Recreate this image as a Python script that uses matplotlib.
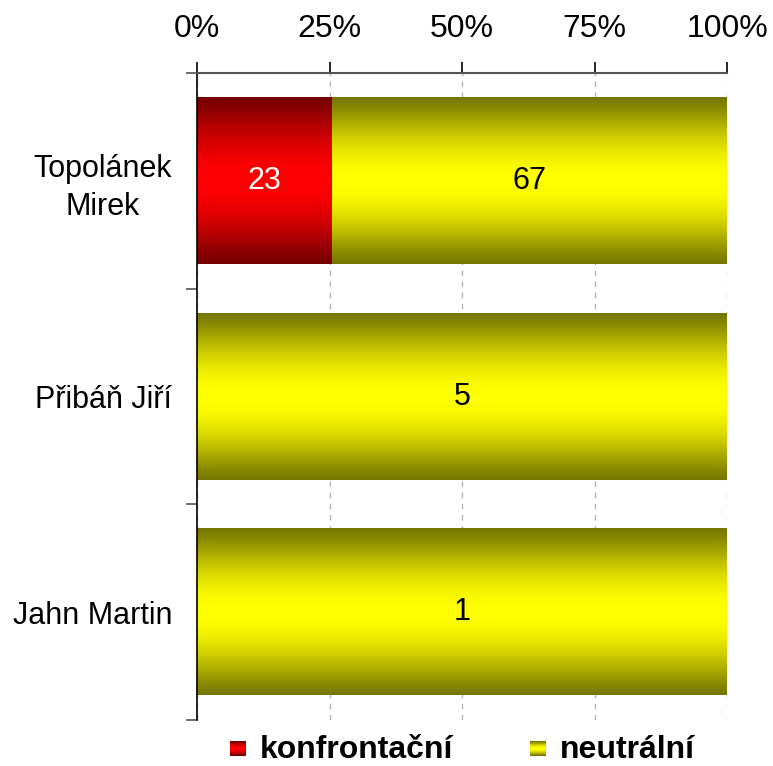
import numpy as np
import matplotlib
matplotlib.use('Agg')
import matplotlib.pyplot as plt
from matplotlib.colors import to_rgb

# ---------------------------------------------------------------
# DATA
# ---------------------------------------------------------------
names = ['Topolánek\nMirek', 'Přibáň Jiří', 'Jahn Martin']
konfrontacni = [23, 0, 0]
neutralni = [67, 5, 1]
series = ['konfrontační', 'neutrální']
xticks = [0, 25, 50, 75, 100]

# ---------------------------------------------------------------
# SETTINGS
# ---------------------------------------------------------------
plt.rcParams['font.family'] = ['Liberation Sans', 'DejaVu Sans']
fontsize = 23
dark = {'konfrontační': '#760000', 'neutrální': '#767600'}
bright = {'konfrontační': '#ff0000', 'neutrální': '#ffff00'}
textcol = {'konfrontační': 'white', 'neutrální': 'black'}


def gradient(name, n=200):
    t = np.linspace(0, 1, n)
    v = 1 - np.abs(2 * t - 1)
    v = np.sin(v * np.pi / 2) ** 1.2
    c0 = np.array(to_rgb(dark[name]))
    c1 = np.array(to_rgb(bright[name]))
    img = c0[None, :] + (c1 - c0)[None, :] * v[:, None]
    return img[:, None, :]


fig = plt.figure(figsize=(7.73, 7.66), dpi=100)
ax = fig.add_axes([0.2549, 0.06, 0.9405 - 0.2549, 0.9047 - 0.06])

totals = np.array(konfrontacni) + np.array(neutralni)
pk = 100 * np.array(konfrontacni) / totals
pn = 100 * np.array(neutralni) / totals
y = np.arange(len(names))

for vals, pct, left, name in [(konfrontacni, pk, np.zeros(len(y)), 'konfrontační'),
                              (neutralni, pn, pk, 'neutrální')]:
    bars = ax.barh(y, pct, left=left, height=0.77, color='none', zorder=2)
    for b, v in zip(bars, vals):
        if v == 0:
            continue
        x0, y0, w, h = b.get_x(), b.get_y(), b.get_width(), b.get_height()
        ax.imshow(gradient(name), extent=(x0, x0 + w, y0 + h, y0),
                  aspect='auto', zorder=2, interpolation='bilinear')
        ax.text(x0 + w / 2, y0 + h / 2, str(v), ha='center', va='center',
                fontsize=22, color=textcol[name], zorder=3)

ax.set_xlim(0, 100)
ax.set_ylim(len(y) - 0.5, -0.5)

# axis styling
ax.xaxis.tick_top()
ax.set_xticks(xticks)
ax.set_xticklabels(['%d%%' % t for t in xticks], fontsize=fontsize)
ax.tick_params(axis='x', direction='out', length=8, width=1.2, pad=13, color='black')
ax.set_yticks(y)
ax.set_yticklabels(names, fontsize=22, ha='right')
ax.tick_params(axis='y', which='major', length=0, pad=18)
ax.set_yticks(np.arange(len(y) + 1) - 0.5, minor=True)
ax.tick_params(axis='y', which='minor', direction='out', length=8, width=1.2, color='#555555')
for t in ax.get_yticklabels():
    t.set_multialignment('center')
    t.set_linespacing(1.35)

ax.grid(axis='x', linestyle=(0, (4, 4)), color='#b5b5b5', linewidth=1, zorder=1)
ax.set_axisbelow(True)
for s in ['right', 'bottom']:
    ax.spines[s].set_visible(False)
ax.spines['top'].set_color('#555555')
ax.spines['top'].set_linewidth(1.5)
ax.spines['left'].set_color('black')
ax.spines['left'].set_linewidth(1.2)

# legend
for xm, xt, name in [(0.298, 0.336, 'konfrontační'), (0.686, 0.724, 'neutrální')]:
    lax = fig.add_axes([xm, 0.0125, 0.0195, 0.0195])
    lax.imshow(gradient(name, 20), aspect='auto', extent=(0, 1, 0, 1))
    lax.set_axis_off()
    fig.text(xt, 0.021, name, fontsize=fontsize, fontweight='bold', va='center', ha='left')

plt.savefig('out.png', dpi=100)
